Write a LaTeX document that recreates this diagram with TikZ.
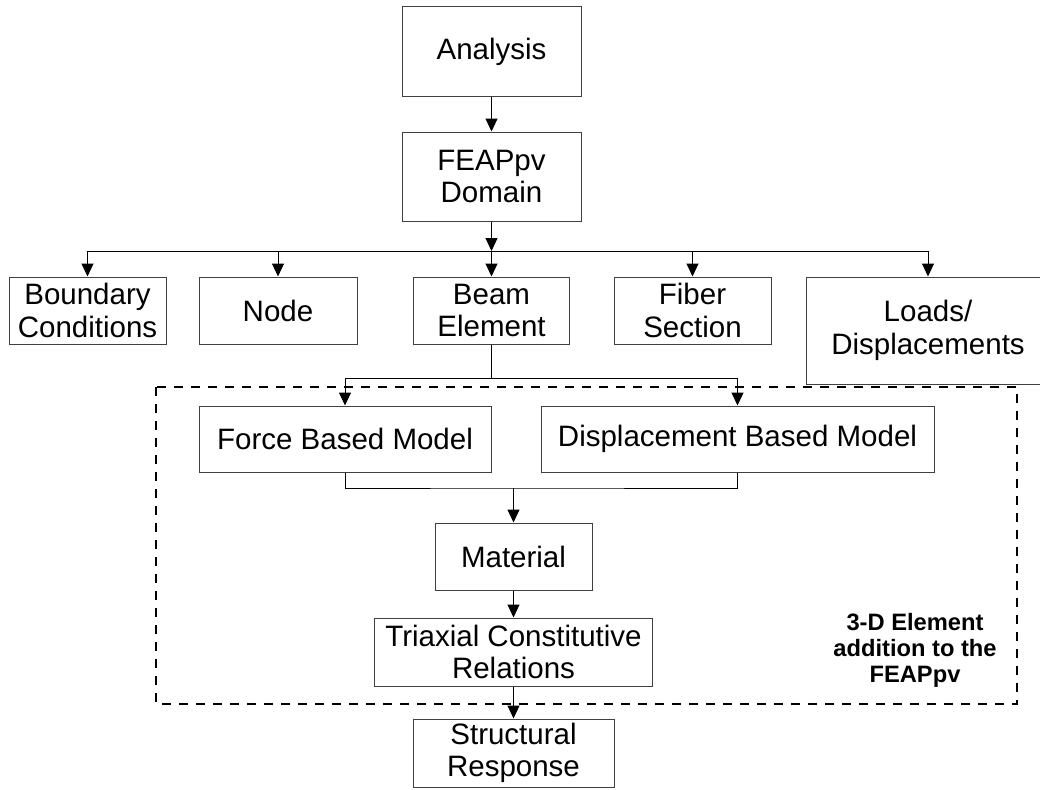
\documentclass[tikz,border=0pt]{standalone}
\usepackage{fontspec}
\setmainfont{Liberation Sans}
\usetikzlibrary{arrows.meta}
\tikzset{
	boxstyle/.style={rectangle,draw=black!75,line width=1pt,fill=white,inner sep=0pt,align=center,font=\fontsize{29.5}{32.5}\selectfont},
	linkstyle/.style={line width=1pt,draw=black},
	arrowstyle/.style={linkstyle,-{Triangle[width=12pt,length=13pt]}},
	groupstyle/.style={draw=black,line width=2.6pt,dash pattern=on 9pt off 8pt},
	notestyle/.style={align=center,inner sep=0pt,font=\bfseries\fontsize{23.7}{26}\selectfont}
}

\begin{document}
\begin{tikzpicture}[x=1pt,y=-1pt]
		\useasboundingbox (0,0) rectangle (1040,789);
		\draw[groupstyle] (156,387) rectangle (1017,704);
		\node[boxstyle,minimum width=179pt,minimum height=90pt] (ana) at (491.5,52) {Analysis};
		\node[boxstyle,minimum width=179pt,minimum height=89pt] (feap) at (491.5,176.5) {FEAPpv\\Domain};
		\node[boxstyle,minimum width=157pt,minimum height=67pt] (bound) at (87.5,310.5) {Boundary\\Conditions};
		\node[boxstyle,minimum width=158pt,minimum height=67pt] (nodes) at (278,310.5) {Node};
		\node[boxstyle,minimum width=156pt,minimum height=67pt] (beam) at (491.5,310.5) {Beam\\Element};
		\node[boxstyle,minimum width=157pt,minimum height=67pt] (fiber) at (692.5,310.5) {Fiber\\Section};
		\node[boxstyle,minimum width=244pt,minimum height=107pt] (loads) at (928,330.5) {Loads/\\Displacements};
		\node[boxstyle,minimum width=292pt,minimum height=66pt] (force) at (345,439) {Force Based Model};
		\node[boxstyle,minimum width=393pt,minimum height=66pt] (disp) at (737.5,439) {Displacement Based Model};
		\node[boxstyle,minimum width=157pt,minimum height=67pt] (mat) at (513.5,556.5) {Material};
		\node[boxstyle,minimum width=278pt,minimum height=68pt] (tri) at (513.5,652) {Triaxial Constitutive\\Relations};
		\node[boxstyle,minimum width=201pt,minimum height=68pt] (resp) at (513.5,753) {Structural\\Response};
		\node[notestyle] (note) at (915,650) {3-D Element\\addition to the\\FEAPpv};
		\coordinate (bus) at (0,251);
		\coordinate (split) at (0,378);
		\coordinate (join) at (513.5,488);
		\draw[arrowstyle] (ana) -- (feap);
		\draw[arrowstyle] (feap) -- (feap |- bus);
		\draw[linkstyle] (bound |- bus) -- (loads |- bus);
		\foreach \b in {bound,nodes,beam,fiber,loads}
			\draw[arrowstyle] (\b |- bus) -- (\b);
		\draw[arrowstyle] (beam) -- (beam |- split) -| (force);
		\draw[arrowstyle] (beam |- split) -| (disp);
		\draw[linkstyle] (force) |- (join) -| (disp);
		\draw[arrowstyle] (join) -- (mat);
		\draw[arrowstyle] (mat) -- (tri);
		\draw[arrowstyle] (tri) -- (resp);
\end{tikzpicture}
\end{document}
